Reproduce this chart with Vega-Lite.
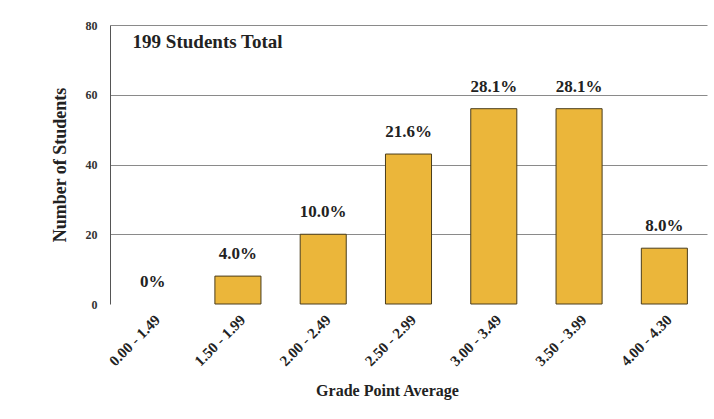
{
  "$schema": "https://vega.github.io/schema/vega-lite/v6.json",
  "width": 597,
  "height": 279,
  "autosize": {"type": "none"},
  "padding": {"left": 110, "top": 25, "right": 7, "bottom": 115},
  "background": "white",
  "config": {
    "view": {"stroke": null},
    "font": "Liberation Serif",
    "axis": {"labelFont": "Liberation Serif", "titleFont": "Liberation Serif"},
    "text": {"font": "Liberation Serif"}
  },
  "data": {
    "values": [
      {"gpa": "0.00 - 1.49", "count": 0, "pct": "0%"},
      {"gpa": "1.50 - 1.99", "count": 8, "pct": "4.0%"},
      {"gpa": "2.00 - 2.49", "count": 20, "pct": "10.0%"},
      {"gpa": "2.50 - 2.99", "count": 43, "pct": "21.6%"},
      {"gpa": "3.00 - 3.49", "count": 56, "pct": "28.1%"},
      {"gpa": "3.50 - 3.99", "count": 56, "pct": "28.1%"},
      {"gpa": "4.00 - 4.30", "count": 16, "pct": "8.0%"}
    ]
  },
  "layer": [
    {
      "mark": {"type": "bar", "color": "#EBB63A", "stroke": "#4a3d1c", "strokeWidth": 1},
      "encoding": {
        "x": {
          "field": "gpa", "type": "nominal", "sort": null,
          "scale": {"paddingInner": 0.46, "paddingOuter": 0.23},
          "axis": {
            "title": "Grade Point Average", "titleFontSize": 16, "titleFontWeight": "bold",
            "titleFont": "Liberation Serif", "titleColor": "#222", "titlePadding": 14, "titleX": 277,
            "labelAngle": -45, "labelFontSize": 15, "labelFontWeight": "bold", "labelColor": "#222",
            "labelFont": "Liberation Serif", "labelPadding": 8, "ticks": false, "domain": false
          }
        },
        "y": {
          "field": "count", "type": "quantitative",
          "scale": {"domain": [0, 80]},
          "axis": {
            "values": [0, 10, 20, 30, 40, 50, 60, 70, 80],
            "title": "Number of Students", "titleFontSize": 18, "titleFontWeight": "bold",
            "titleFont": "Liberation Serif", "titleColor": "#222", "titlePadding": 16,
            "labelFontSize": 12, "labelFontWeight": "bold", "labelColor": "#333", "labelPadding": 13,
            "labelFont": "Liberation Serif",
            "ticks": false, "domainColor": "#555", "gridColor": "#8a8a8a",
            "gridOpacity": {"condition": {"test": "datum.value === 0", "value": 0}, "value": 1}
          }
        },
        "strokeOpacity": {"condition": {"test": "datum.count === 0", "value": 0}, "value": 1}
      }
    },
    {
      "mark": {"type": "text", "baseline": "bottom", "dy": -13, "fontSize": 17, "fontWeight": "bold", "color": "#222", "font": "Liberation Serif"},
      "encoding": {
        "x": {"field": "gpa", "type": "nominal", "sort": null},
        "y": {"field": "count", "type": "quantitative"},
        "text": {"field": "pct"}
      }
    },
    {
      "data": {"values": [{"note": "199 Students Total"}]},
      "mark": {"type": "text", "align": "left", "baseline": "top", "dx": 3, "dy": 8, "fontSize": 19, "fontWeight": "bold", "color": "#222", "font": "Liberation Serif"},
      "encoding": {
        "x": {"datum": "0.00 - 1.49", "type": "nominal", "bandPosition": 0},
        "y": {"datum": 80, "type": "quantitative"},
        "text": {"field": "note"}
      }
    }
  ]
}
